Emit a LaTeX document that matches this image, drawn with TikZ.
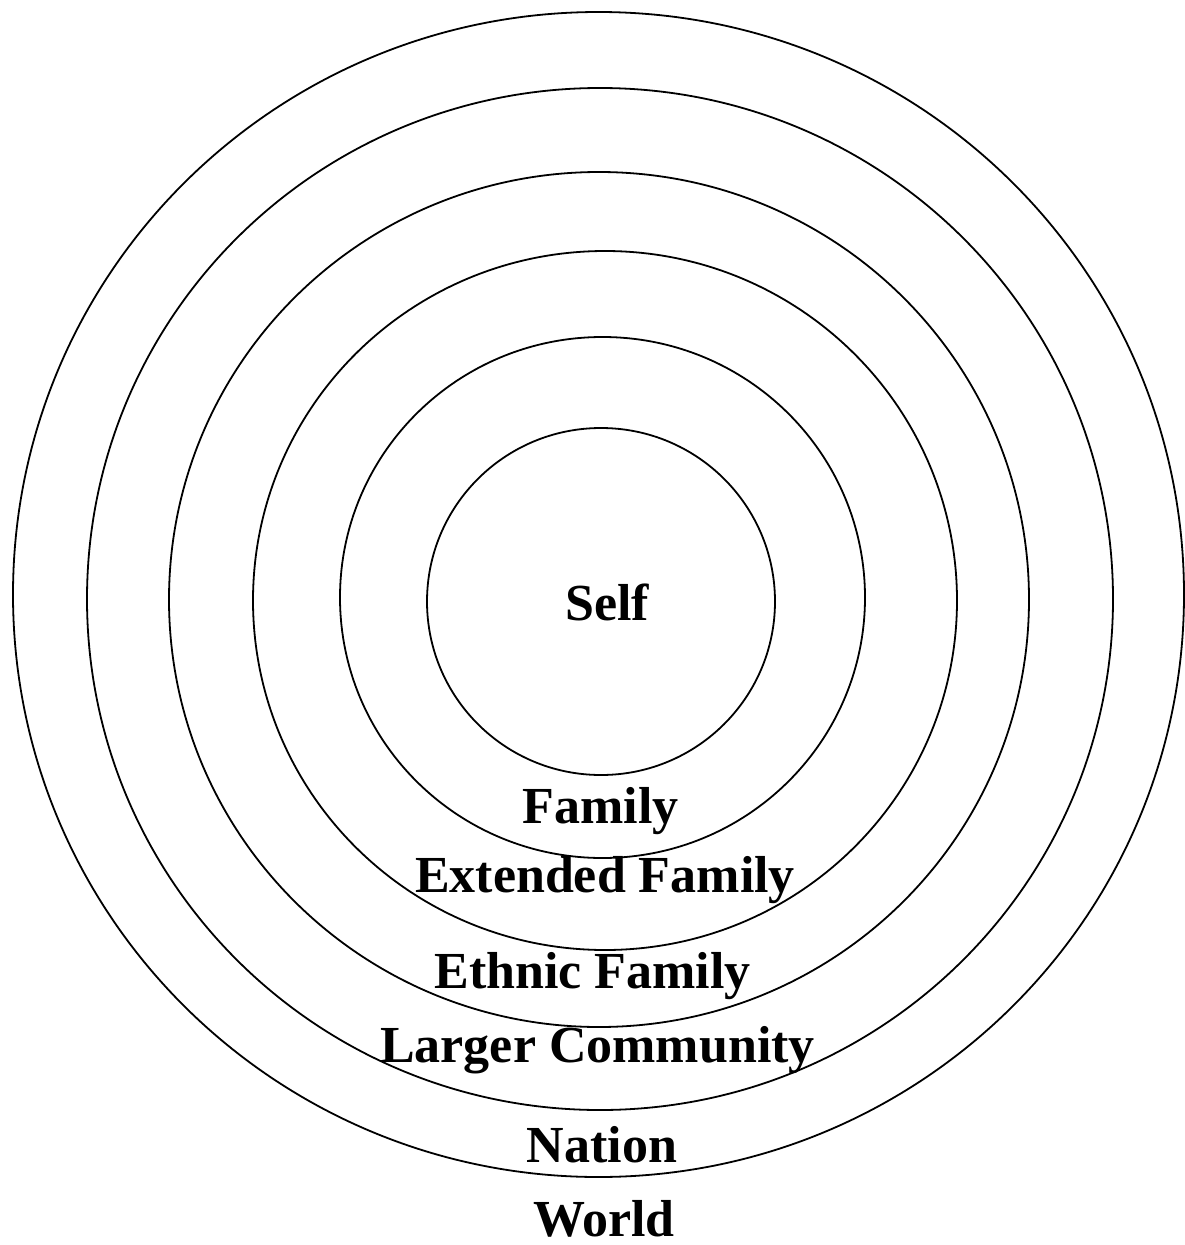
\documentclass[tikz,border=0pt]{standalone}
\usepackage{fontspec}
\setmainfont{Liberation Serif}
\begin{document}
\begin{tikzpicture}[x=1pt,y=-1pt,
  ring/.style={draw=black,line width=1.8pt},
  lbl/.style={anchor=base,inner sep=0pt,font=\bfseries\fontsize{52}{60}\selectfont}]
\useasboundingbox (0,0) rectangle (1185,1245);
\fill[white] (0,0) rectangle (1185,1245);
% rings
\draw[ring] (601,601.5) ellipse [x radius=174, y radius=173.5];
\draw[ring] (602.5,597.5) ellipse [x radius=262.5, y radius=260.5];
\draw[ring] (605,600.5) ellipse [x radius=352, y radius=349.5];
\draw[ring] (599,599.5) ellipse [x radius=430, y radius=427.5];
\draw[ring] (600,599) ellipse [x radius=513, y radius=511];
\draw[ring] (598.5,594.5) ellipse [x radius=585.5, y radius=582.5];
% labels
\node[lbl] (self) at (607,620) {Self};
\node[lbl] (family) at (600.5,823) {Family};
\node[lbl] (ext) at (605,892) {Extended Family};
\node[lbl] (eth) at (592.5,988) {Ethnic Family};
\node[lbl] (larger) at (597.5,1062) {Larger Community};
\node[lbl] (nation) at (602,1162) {Nation};
\node[lbl] (world) at (604,1236) {World};
\end{tikzpicture}
\end{document}
